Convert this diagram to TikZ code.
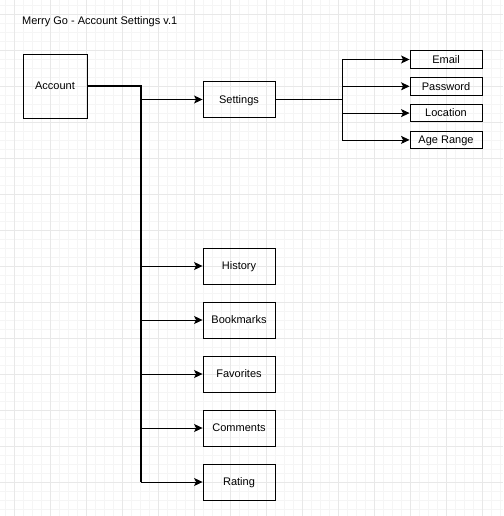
\documentclass[tikz,border=0pt]{standalone}
\usepackage{fontspec}
\setmainfont{Liberation Sans}
\usetikzlibrary{arrows.meta}
\tikzset{
  box/.style={draw, line width=0.9pt, minimum width=72pt, minimum height=36pt, inner sep=0pt, text height=7.8pt, text depth=0pt, font=\fontsize{11}{13}\selectfont},
  small/.style={box, minimum height=17.5pt},
  conn/.style={-{Stealth[length=8.5pt,width=8pt,inset=2pt]}, line width=0.8pt},
  trunk/.style={line width=1.1pt},
}
\begin{document}
\begin{tikzpicture}[x=1pt,y=1pt]
\useasboundingbox (0,0) rectangle (503,-516);
\fill[white] (0,0) rectangle (503,-516);
\foreach \x in {5.5,14.5,...,502} \draw[black!4, line width=0.6pt] (\x,0) -- (\x,-516);
\foreach \y in {5.5,14.5,...,515} \draw[black!4, line width=0.6pt] (0,-\y) -- (503,-\y);
\foreach \x in {14.5,50.5,...,502} \draw[black!9, line width=0.7pt] (\x,0) -- (\x,-516);
\foreach \y in {14.5,50.5,...,515} \draw[black!9, line width=0.7pt] (0,-\y) -- (503,-\y);

\node[anchor=base west, inner sep=0pt, font=\fontsize{11}{13}\selectfont] (T) at (22,-24.5) {Merry Go - Account Settings v.1};

\node[box, minimum width=64pt, minimum height=64pt] (A) at (55,-86) {Account};
\node[box] (S) at (239,-99.5) {Settings};

\node[small] (E) at (446,-59.5) {Email};
\node[small, below of=E, node distance=26.8pt] (P) {Password};
\node[small, below of=P, node distance=26.8pt] (L) {Location};
\node[small, below of=L, node distance=26.8pt] (G) {Age Range};

\node[box] (H) at (239,-266) {History};
\node[box, below of=H, node distance=54pt] (B) {Bookmarks};
\node[box, below of=B, node distance=54pt] (F) {Favorites};
\node[box, below of=F, node distance=54pt] (C) {Comments};
\node[box, below of=C, node distance=54pt] (R) {Rating};

\coordinate (t) at (141,-482);
\draw[trunk] (A.east) -| (t);
\foreach \n in {S,H,B,F,C,R}
  \draw[conn] (t |- \n) -- (\n.west);

\coordinate (u) at (342,-99.5);
\draw[trunk] (S.east) -- (u);
\draw[line width=0.9pt] (u |- E) -- (u |- G);
\foreach \n in {E,P,L,G}
  \draw[conn] (u |- \n) -- (\n.west);
\end{tikzpicture}
\end{document}
